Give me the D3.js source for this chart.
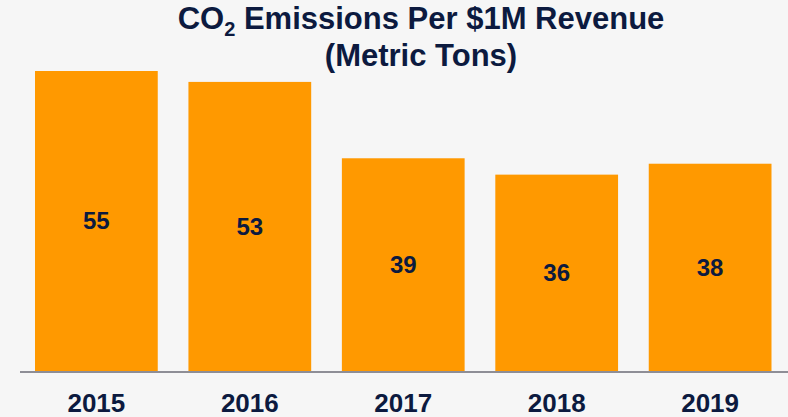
<!DOCTYPE html>
<html>
<head>
<meta charset="utf-8">
<script src="https://cdn.jsdelivr.net/npm/d3@7"></script>
<style>
  html, body { margin: 0; padding: 0; background: #f6f6f6; }
  svg { display: block; font-family: "Liberation Sans", Arial, sans-serif; }
</style>
</head>
<body>
<script>
// chart data
var years = ["2015", "2016", "2017", "2018", "2019"];
var emissions = [55, 53, 39, 36, 38];

var width = 788, height = 417;
var baseline = 371;

var svg = d3.select("body").append("svg")
    .attr("width", width)
    .attr("height", height);

svg.append("rect")
    .attr("width", width)
    .attr("height", height)
    .attr("fill", "#f6f6f6");

// scales
var x = d3.scaleBand()
    .domain(years)
    .range([35, 771.5])
    .paddingInner(0.2)
    .paddingOuter(0);

var y = d3.scaleLinear()
    .domain([0, 55])
    .range([baseline, 71]);

// title
var title = svg.append("text")
    .attr("x", 421)
    .attr("y", 29)
    .attr("text-anchor", "middle")
    .attr("fill", "#0c1a3f")
    .style("font-size", "31px")
    .style("font-weight", "bold");
title.append("tspan").text("CO");
title.append("tspan").attr("dy", 7).style("font-size", "20px").text("2");
title.append("tspan").attr("dy", -7).text(" Emissions Per $1M Revenue");

svg.append("text")
    .attr("x", 421)
    .attr("y", 66)
    .attr("text-anchor", "middle")
    .attr("fill", "#0c1a3f")
    .style("font-size", "31px")
    .style("font-weight", "bold")
    .text("(Metric Tons)");

// bars
var data = years.map(function(d, i) { return { year: d, value: emissions[i] }; });

svg.selectAll(".bar")
    .data(data)
    .enter().append("rect")
    .attr("class", "bar")
    .attr("x", function(d) { return x(d.year); })
    .attr("y", function(d) { return y(d.value); })
    .attr("width", x.bandwidth())
    .attr("height", function(d) { return baseline - y(d.value); })
    .attr("fill", "#ff9900");

// value labels, centred in the bars
svg.selectAll(".val")
    .data(data)
    .enter().append("text")
    .attr("class", "val")
    .attr("x", function(d) { return x(d.year) + x.bandwidth() / 2; })
    .attr("y", function(d) { return (y(d.value) + baseline) / 2; })
    .attr("dy", "0.35em")
    .attr("text-anchor", "middle")
    .attr("fill", "#0c1a3f")
    .style("font-size", "24px")
    .style("font-weight", "bold")
    .text(function(d) { return d.value; });

// x axis
svg.append("line")
    .attr("x1", 20)
    .attr("x2", width)
    .attr("y1", baseline + 1)
    .attr("y2", baseline + 1)
    .attr("stroke", "#8e8e96")
    .attr("stroke-width", 2);

var xAxis = svg.append("g")
    .attr("transform", "translate(0," + baseline + ")")
    .call(d3.axisBottom(x).tickSize(0));
xAxis.select(".domain").remove();
xAxis.selectAll("text")
    .attr("y", 41)
    .attr("dy", 0)
    .attr("fill", "#0c1a3f")
    .style("font-family", "\"Liberation Sans\", Arial, sans-serif")
    .style("font-size", "26px")
    .style("font-weight", "bold");
</script>
</body>
</html>
